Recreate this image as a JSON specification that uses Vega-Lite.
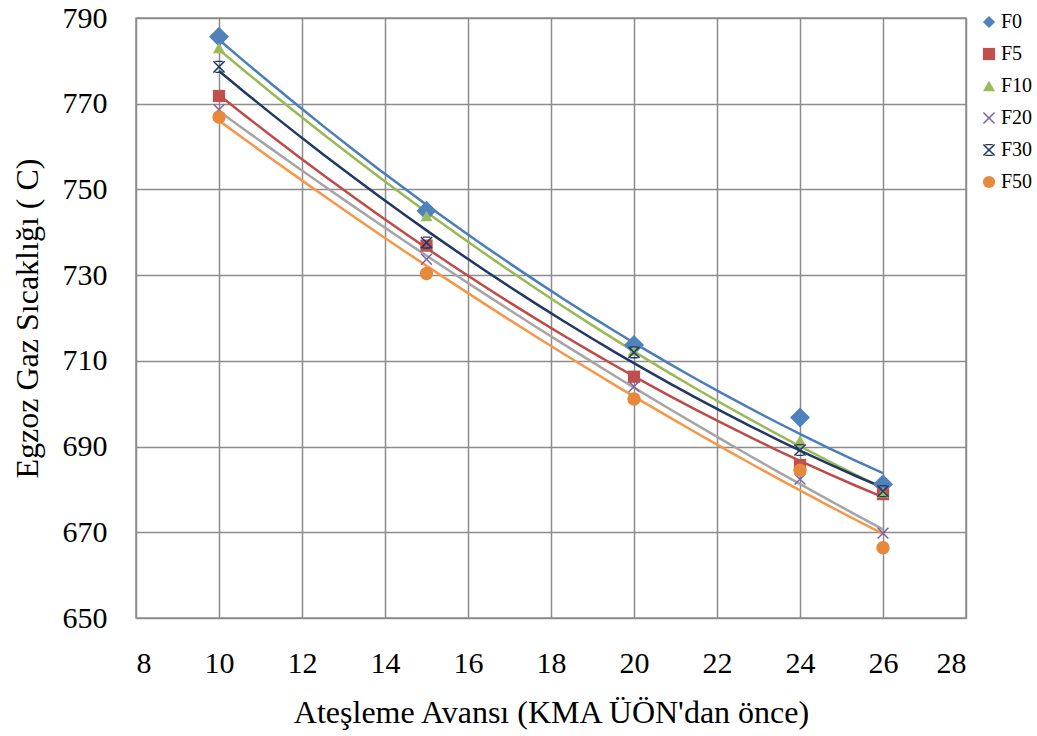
{
  "$schema": "https://vega.github.io/schema/vega-lite/v6.json",
  "width": 830,
  "height": 600,
  "autosize": {"type": "none"},
  "padding": {"left": 136, "top": 18, "right": 71, "bottom": 118},
  "background": "white",
  "config": {
    "font": "Liberation Serif",
    "view": {"stroke": "#8c8c8c", "strokeWidth": 1.5},
    "axis": {
      "grid": true,
      "gridColor": "#8c8c8c",
      "gridWidth": 1.5,
      "gridOpacity": 1,
      "domain": false,
      "ticks": false,
      "labelFont": "Liberation Serif",
      "labelFontSize": 30,
      "labelColor": "#000000",
      "titleFont": "Liberation Serif",
      "titleFontSize": 32,
      "titleFontWeight": "normal",
      "titleColor": "#000000"
    },
    "legend": {
      "labelFont": "Liberation Serif",
      "labelFontSize": 20,
      "labelColor": "#000000",
      "symbolSize": 150,
      "rowPadding": 12,
      "labelOffset": 2,
      "symbolStrokeWidth": 0
    }
  },
  "data": {
    "values": [
      {"series": "F0", "adv": 10, "temp": 785.6},
      {"series": "F0", "adv": 15, "temp": 745.0},
      {"series": "F0", "adv": 20, "temp": 713.7},
      {"series": "F0", "adv": 24, "temp": 696.8},
      {"series": "F0", "adv": 26, "temp": 681.2},
      {"series": "F5", "adv": 10, "temp": 771.8},
      {"series": "F5", "adv": 15, "temp": 736.9},
      {"series": "F5", "adv": 20, "temp": 706.3},
      {"series": "F5", "adv": 24, "temp": 685.7},
      {"series": "F5", "adv": 26, "temp": 678.9},
      {"series": "F10", "adv": 10, "temp": 783.0},
      {"series": "F10", "adv": 15, "temp": 743.8},
      {"series": "F10", "adv": 20, "temp": 712.4},
      {"series": "F10", "adv": 24, "temp": 691.4},
      {"series": "F10", "adv": 26, "temp": 679.3},
      {"series": "F20", "adv": 10, "temp": 768.6},
      {"series": "F20", "adv": 15, "temp": 733.7},
      {"series": "F20", "adv": 20, "temp": 704.0},
      {"series": "F20", "adv": 24, "temp": 682.4},
      {"series": "F20", "adv": 26, "temp": 669.8},
      {"series": "F30", "adv": 10, "temp": 778.6},
      {"series": "F30", "adv": 15, "temp": 737.6},
      {"series": "F30", "adv": 20, "temp": 712.0},
      {"series": "F30", "adv": 24, "temp": 689.2},
      {"series": "F30", "adv": 26, "temp": 679.6},
      {"series": "F50", "adv": 10, "temp": 766.9},
      {"series": "F50", "adv": 15, "temp": 730.4},
      {"series": "F50", "adv": 20, "temp": 701.1},
      {"series": "F50", "adv": 24, "temp": 684.5},
      {"series": "F50", "adv": 26, "temp": 666.4}
    ]
  },
  "encoding": {
    "x": {
      "field": "adv",
      "type": "quantitative",
      "scale": {"domain": [8, 28], "nice": false, "zero": false},
      "axis": {"values": [8, 10, 12, 14, 16, 18, 20, 22, 24, 26, 28], "title": "Ateşleme Avansı (KMA ÜÖN'dan önce)", "labelPadding": 30, "titlePadding": 19}
    },
    "y": {
      "field": "temp",
      "type": "quantitative",
      "scale": {"domain": [650, 790], "nice": false, "zero": false},
      "axis": {"values": [650, 670, 690, 710, 730, 750, 770, 790], "title": "Egzoz Gaz Sıcaklığı ( C)", "labelPadding": 29, "titlePadding": 18}
    }
  },
  "layer": [
    {
      "transform": [
        {"regression": "temp", "on": "adv", "groupby": ["series"], "method": "poly", "order": 2}
      ],
      "mark": {"type": "line", "strokeWidth": 2.5, "clip": true},
      "encoding": {
        "stroke": {
          "field": "series",
          "type": "nominal",
          "scale": {
            "domain": ["F50", "F30", "F20", "F10", "F5", "F0"],
            "range": ["#F79646", "#1F3864", "#A5A5A5", "#98B954", "#BE4B48", "#4A7EBB"]
          },
          "legend": null
        }
      }
    },
    {
      "mark": {"type": "point", "filled": true, "opacity": 1},
      "encoding": {
        "color": {
          "field": "series",
          "type": "nominal",
          "scale": {
            "domain": ["F0", "F5", "F10", "F20", "F30", "F50"],
            "range": ["#4F81BD", "#C0504D", "#9BBB59", "#8064A2", "#1F3864", "#E8883A"]
          },
          "legend": {"title": null, "orient": "none", "legendX": 843, "legendY": -6}
        },
        "shape": {
          "field": "series",
          "type": "nominal",
          "scale": {
            "domain": ["F0", "F5", "F10", "F20", "F30", "F50"],
            "range": [
              "diamond",
              "square",
              "triangle-up",
              "M-1,-0.82L-0.82,-1L0,-0.18L0.82,-1L1,-0.82L0.18,0L1,0.82L0.82,1L0,0.18L-0.82,1L-1,0.82L-0.18,0Z",
              "M-1,-0.82L-0.82,-1L0,-0.18L0.82,-1L1,-0.82L0.18,0L1,0.82L0.82,1L0,0.18L-0.82,1L-1,0.82L-0.18,0ZM-0.6,-1L0.6,-1L0.6,-0.78L-0.6,-0.78ZM-0.6,0.78L0.6,0.78L0.6,1L-0.6,1Z",
              "circle"
            ]
          },
          "legend": {"title": null, "orient": "none", "legendX": 843, "legendY": -6}
        },
        "size": {
          "field": "series",
          "type": "nominal",
          "scale": {
            "type": "ordinal",
            "domain": ["F5", "F0", "F10", "F20", "F30", "F50"],
            "range": [150, 400, 150, 140, 150, 180]
          },
          "legend": null
        }
      }
    }
  ]
}
